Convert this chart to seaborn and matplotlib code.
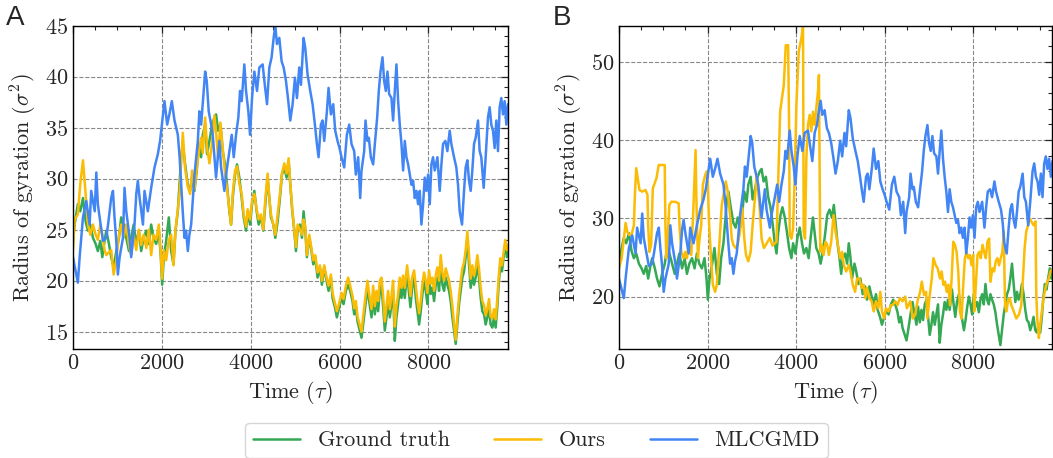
import pandas as pd
import seaborn as sns
import matplotlib.pyplot as plt
from matplotlib.ticker import MultipleLocator

# Ground truth trajectory (same in both panels)
gt_time = [0, 37, 110, 165, 225, 285, 337, 390, 450, 510, 560, 615, 660, 710, 750,
           810, 860, 915, 975, 1035, 1085, 1140, 1200, 1260, 1310, 1365, 1425, 1483, 1535, 1590,
           1650, 1708, 1760, 1813, 1873, 1932, 1977, 2007, 2045, 2097, 2157, 2210, 2262, 2307, 2360,
           2397, 2434, 2472, 2524, 2584, 2636, 2681, 2734, 2786, 2831, 2884, 2921, 2974, 3018, 3071,
           3131, 3183, 3221, 3266,
           3318, 3370, 3423, 3468, 3520, 3558, 3595, 3648, 3692, 3745, 3797, 3842, 3895, 3932, 3985,
           4030, 4082, 4134, 4179, 4232, 4284, 4329, 4381, 4419, 4456, 4509, 4554, 4606, 4658, 4703,
           4756, 4808, 4853, 4891, 4936, 4981, 5018, 5056, 5108, 5153, 5190, 5228, 5265, 5318, 5355,
           5408, 5453, 5505, 5557, 5602, 5655, 5707, 5752, 5805, 5842, 5895, 5939, 5992, 6044, 6089,
           6142, 6194, 6239, 6291, 6329, 6366, 6404, 6456,
           6494, 6531, 6584, 6629, 6666, 6719, 6756, 6794, 6831, 6868, 6906, 6943, 6981, 7018, 7056,
           7093, 7131, 7168, 7205, 7243, 7280, 7318, 7355, 7393, 7430, 7468, 7520, 7558, 7595, 7633,
           7677, 7715, 7752, 7790, 7827, 7865, 7902, 7940, 7977, 8014, 8052, 8089, 8127, 8164, 8202,
           8239, 8277, 8314, 8352, 8389, 8426, 8464, 8501, 8539, 8576, 8614, 8651, 8689, 8726, 8763,
           8801, 8838, 8876, 8913, 8951, 8988, 9026, 9063, 9101, 9138, 9176, 9213, 9251, 9288, 9325,
           9363, 9400, 9438, 9475, 9513, 9550, 9580, 9618, 9655, 9692, 9730, 9767, 9797]
gt_rg = [23.9, 25.5, 27.5, 26.8, 28.1, 25.8, 24.9, 25.5, 24.2, 23.6, 22.9, 23.9, 22.3, 23.9, 24.9,
         23.6, 22.3, 21.3, 22.9, 24.2, 26.2, 25.5, 24.2, 22.9, 24.2, 25.5, 23.6, 24.9, 22.9, 24.2,
         24.9, 23.6, 25.5, 24.2, 23.6, 24.9, 22.3, 19.6, 22.3, 23.9, 26.2, 22.9, 21.6, 24.9, 26.8,
         29.4, 32.1, 33.4, 31.4, 29.4, 28.8, 30.1, 28.8, 30.8, 33.4, 32.1, 34.3, 35.3, 32.4, 33.7,
         35.3, 36.0, 36.3, 34.7,
         35.3, 32.7, 31.4, 29.4, 26.8, 25.5, 28.1, 30.4, 31.4, 30.1, 28.1, 26.2, 24.9, 26.8, 25.5,
         27.5, 28.8, 26.8, 25.5, 26.2, 24.9, 27.5, 30.1, 28.1, 26.2, 25.5, 24.2, 25.8, 28.1, 30.4,
         31.1, 30.1, 31.7, 29.4, 26.8, 24.9, 22.9, 24.9, 25.5, 24.2, 26.8, 25.0, 22.3, 24.2, 23.3,
         21.6, 22.3, 20.3, 21.3, 19.6, 21.3, 20.0, 19.0, 20.3, 18.3, 17.4, 16.4, 17.4, 18.3, 17.7,
         19.0, 19.6, 19.0, 18.0, 16.7, 17.4, 16.0, 15.1,
         14.4, 15.7, 17.7, 19.3, 18.0, 16.4, 18.7, 16.7, 18.3, 17.0, 19.0, 19.6, 17.4, 15.1, 16.4,
         18.0, 16.4, 17.7, 19.0, 14.1, 16.4, 17.7, 19.3, 18.3, 19.6, 18.3, 20.9, 19.0, 17.4, 19.3,
         20.3, 18.3, 17.0, 15.7, 17.0, 18.7, 20.0, 19.0, 17.7, 20.3, 18.7, 19.3, 18.0, 19.6, 20.3,
         19.0, 21.6, 19.6, 19.0, 20.3, 19.6, 19.0, 18.0, 16.4, 15.1, 13.8, 15.7, 17.7, 19.0, 20.3,
         20.9, 22.3, 24.2, 21.6, 19.3, 20.6, 19.6, 20.3, 21.6, 20.3, 18.3, 17.0, 16.7, 15.7, 16.4,
         17.4, 15.7, 15.4, 16.4, 15.4, 17.4, 19.6, 21.6, 20.9, 22.3, 23.6, 22.3, 22.9]

# "Ours" in panel A, read on the same time stamps as the ground truth
ours_a_rg = [23.0, 26.0, 26.5, 29.5, 31.8, 28.5, 25.5, 24.5, 25.5, 24.5, 24.0, 25.5, 24.5, 23.0, 22.5,
             22.8, 23.0, 20.6, 22.0, 24.5, 25.5, 24.2, 25.5, 23.5, 22.5, 24.5, 23.0, 25.0, 23.5, 24.5,
             23.2, 25.0, 22.5, 24.5, 24.0, 25.5, 22.5, 20.2, 23.0, 22.0, 24.0, 24.5, 21.5, 25.0, 27.0,
             28.5, 31.5, 34.5, 31.0, 29.2, 28.5, 30.8, 29.0, 31.0, 32.5, 34.0, 32.5, 36.0, 33.0, 31.5,
             33.5, 36.2, 34.5, 32.0,
             35.5, 33.0, 30.5, 29.0, 27.0, 25.5, 28.5, 30.8, 31.2, 29.5, 28.5, 26.5, 25.3, 27.0, 26.0,
             27.8, 28.5, 27.0, 26.0, 26.5, 25.0, 28.0, 30.5, 28.0, 26.5, 25.5, 24.5, 26.5, 28.5, 30.5,
             31.5, 30.5, 32.0, 29.5, 27.0, 25.0, 23.3, 25.5, 25.0, 24.5, 26.0, 25.3, 22.5, 24.5, 23.5,
             22.0, 22.5, 20.8, 21.5, 20.0, 21.5, 20.3, 19.5, 20.6, 18.8, 17.8, 17.0, 17.8, 18.8, 18.2,
             19.5, 20.3, 19.5, 18.5, 17.3, 18.0, 16.5, 15.6,
             15.0, 16.5, 18.5, 20.0, 18.7, 17.2, 19.5, 17.5, 19.0, 18.0, 20.0, 20.3, 18.5, 16.0, 17.5,
             19.0, 17.2, 18.5, 20.0, 15.5, 17.5, 18.7, 20.3, 19.3, 20.5, 19.3, 21.5, 20.0, 18.5, 20.3,
             21.0, 19.5, 18.0, 16.8, 18.0, 19.7, 20.8, 20.0, 18.8, 21.0, 19.7, 20.3, 19.0, 20.5, 21.3,
             20.0, 22.5, 20.8, 20.0, 21.2, 20.6, 20.0, 19.0, 17.5, 15.8, 14.2, 16.5, 18.5, 20.0, 21.2,
             21.8, 23.0, 24.8, 22.5, 20.2, 21.5, 20.5, 21.2, 22.5, 21.2, 19.3, 18.0, 17.6, 16.6, 17.2,
             18.2, 16.5, 16.3, 17.2, 16.2, 18.2, 20.3, 22.2, 21.5, 22.8, 24.0, 23.0, 23.5]

# MLCGMD trajectory (same in both panels)
ml_time = [0, 110, 150, 225, 300, 375, 410, 490, 525, 560, 600, 675, 750, 790, 825,
           860, 900, 935, 975, 1010, 1050, 1125, 1160, 1200, 1275, 1310, 1385, 1425, 1460, 1500,
           1575, 1610, 1685, 1760, 1835, 1910, 1960, 2020, 2060, 2120, 2170, 2225, 2285, 2360, 2400,
           2435, 2470, 2510, 2545, 2585, 2620, 2660, 2700, 2735, 2810, 2845, 2885, 2920, 2975, 3010,
           3055, 3110, 3145, 3185, 3220, 3260, 3295,
           3333, 3408, 3445, 3520, 3573, 3618, 3670, 3722, 3760, 3797, 3857, 3895, 3947, 3985, 4030,
           4082, 4142, 4194, 4269, 4307, 4367, 4419, 4471, 4516, 4554, 4591, 4644, 4696, 4741, 4793,
           4846, 4891, 4943, 4996, 5041, 5093, 5131, 5190, 5228, 5280, 5340, 5393, 5445, 5490, 5527,
           5580, 5617, 5655, 5715, 5752, 5805, 5857, 5902, 5954, 5999, 6044, 6104, 6164, 6217, 6269,
           6329, 6366, 6419, 6464,
           6494, 6554, 6584, 6629, 6659, 6704, 6756, 6794, 6846, 6883, 6921, 6966, 7003, 7041, 7078,
           7116, 7168, 7205, 7243, 7280, 7318, 7355, 7393, 7430, 7468, 7505, 7543, 7580, 7618, 7655,
           7693, 7730, 7767, 7805, 7842, 7880, 7917, 7955, 7992, 8030, 8067, 8104, 8142, 8202, 8254,
           8292, 8329, 8381, 8426, 8479, 8516, 8576, 8628, 8666, 8703, 8756, 8801, 8838, 8876, 8913,
           8951, 8988, 9026, 9063, 9116, 9153, 9190, 9243, 9288, 9340, 9378, 9415, 9453, 9490, 9528,
           9565, 9603, 9640, 9678, 9715, 9753, 9790]
ml_rg = [22.3, 19.8, 22.3, 26.2, 27.8, 25.5, 28.8, 26.8, 30.6, 27.5, 26.2, 23.9, 24.2, 25.5, 26.8,
         28.1, 28.8, 26.2, 23.9, 20.6, 22.3, 24.2, 29.1, 26.8, 24.2, 22.3, 25.5, 28.5, 29.8, 28.1,
         25.5, 28.8, 26.8, 29.1, 31.1, 32.4, 33.7, 36.0, 37.6, 35.3, 36.3, 37.6, 35.7, 34.3, 32.1,
         29.4, 26.8, 24.2, 24.9, 22.9, 24.5, 25.5, 28.1, 30.4, 33.7, 36.6, 35.3, 37.3, 40.5, 39.6,
         36.6, 35.3, 34.3, 32.1, 30.1, 32.1, 33.7,
         31.1, 28.8, 30.4, 32.7, 34.3, 32.1, 34.3, 36.0, 38.6, 37.6, 41.2, 38.6, 36.6, 34.3, 37.9,
         40.5, 38.6, 40.9, 41.2, 39.6, 37.3, 40.9, 41.9, 43.8, 45.0, 43.2, 43.8, 41.5, 40.9, 39.6,
         37.6, 35.7, 37.3, 39.9, 37.9, 40.9, 39.2, 43.8, 42.8, 40.2, 38.6, 37.3, 35.3, 33.4, 32.1,
         35.3, 35.7, 33.7, 36.6, 38.9, 36.3, 37.3, 34.7, 33.7, 33.0, 32.1, 31.1, 34.3, 35.3, 33.4,
         32.7, 30.4, 32.1, 28.1,
         30.8, 32.7, 35.7, 33.7, 34.0, 32.1, 31.4, 33.4, 36.0, 38.6, 40.5, 41.9, 39.6, 38.6, 40.5,
         38.3, 37.9, 35.7, 38.6, 41.2, 37.6, 35.3, 33.4, 30.8, 33.7, 32.1, 31.4, 30.4, 29.4, 29.8,
         28.1, 28.8, 27.5, 28.8, 25.5, 27.5, 30.1, 28.8, 30.4, 27.5, 31.4, 32.1, 30.8, 32.1, 28.8,
         31.4, 33.4, 33.7, 32.7, 34.7, 33.4, 32.1, 31.1, 29.4, 26.8, 25.5, 28.8, 31.1, 31.8, 29.8,
         28.8, 30.8, 33.4, 34.0, 35.7, 32.7, 32.1, 29.1, 32.1, 36.0, 37.0, 35.3, 34.7, 33.0, 35.7,
         32.7, 37.0, 37.9, 36.3, 37.6, 35.3, 37.3]

# "Ours" in panel B
ours_b_time = [0, 60, 112, 150, 187, 225, 285, 337, 360, 390, 434, 464, 524, 600, 644,
               659, 689, 727, 764, 809, 846, 899, 974, 1034, 1049, 1071, 1108, 1138, 1183, 1273,
               1348, 1371, 1408, 1461, 1498, 1535, 1573, 1633, 1678, 1708, 1730, 1753, 1783, 1813, 1857,
               1895, 1947, 1985, 2007, 2037, 2075, 2120, 2172, 2210, 2247, 2284, 2322, 2374, 2412, 2457,
               2509, 2547, 2584, 2636, 2681, 2734, 2786, 2831, 2869, 2921, 2974, 3018, 3071, 3108, 3146,
               3183, 3221, 3273, 3318, 3408, 3468, 3558, 3640, 3722, 3767, 3820, 3842, 3857, 3895, 3932,
               3970, 4007, 4060, 4120, 4157, 4172, 4202, 4232, 4269, 4307, 4344, 4381, 4419, 4456, 4494,
               4516, 4531, 4546, 4584, 4621, 4666, 4703, 4741, 4793, 4846, 4891, 4943, 4996, 5041, 5078,
               5131, 5190, 5228, 5280, 5333, 5378, 5430, 5483, 5527, 5565, 5602, 5655, 5707, 5752, 5805,
               5857, 5902, 5939, 5992, 6029, 6089, 6142, 6179, 6239, 6291, 6344, 6404, 6464, 6502, 6577,
               6637, 6689, 6742, 6802, 6839, 6891, 6936, 6966, 7011, 7064, 7101, 7154, 7198, 7251, 7288,
               7326, 7363, 7401, 7438, 7475, 7513, 7550, 7588, 7625, 7663, 7700, 7738, 7775, 7812, 7850,
               7887, 7925, 7962, 8000, 8022, 8060, 8097, 8135, 8172, 8210, 8247, 8284, 8322, 8359, 8389,
               8434, 8472, 8509, 8547, 8584, 8622, 8659, 8689, 8719, 8749, 8786, 8824, 8861, 8914, 8974,
               9034, 9086, 9123, 9161, 9198, 9236, 9273, 9311, 9363, 9408, 9423, 9446, 9483, 9513, 9550,
               9588, 9633, 9670, 9708, 9745, 9790]
ours_b_rg = [23.6, 24.9, 27.4, 29.4, 28.3, 27.9, 27.9, 29.1, 33.0, 36.4, 34.7, 33.6, 33.4, 33.6, 33.0,
             29.1, 25.7, 26.6, 33.8, 34.5, 35.1, 36.8, 36.8, 36.8, 29.1, 24.9, 28.3, 31.7, 32.1, 32.1,
             31.9, 28.7, 25.7, 24.9, 25.7, 24.9, 26.6, 25.3, 30.9, 35.5, 38.7, 31.3, 24.9, 27.0, 29.1,
             34.3, 35.5, 36.0, 34.3, 29.1, 25.3, 21.5, 20.6, 21.5, 24.9, 28.3, 31.7, 33.4, 34.7, 33.4,
             30.4, 27.4, 26.6, 26.2, 26.6, 28.3, 31.3, 27.4, 25.3, 24.5, 25.7, 29.1, 32.6, 35.5, 33.4,
             30.9, 27.4, 26.2, 26.6, 27.5, 26.5, 27.0, 43.6, 47.0, 52.1, 52.1, 41.9, 27.9, 27.4, 28.7,
             35.5, 44.5, 51.3, 53.0, 54.6, 28.3, 27.4, 37.7, 41.9, 43.2, 41.1, 43.6, 41.9, 44.0, 46.2,
             48.3, 37.7, 25.7, 26.6, 25.3, 27.0, 26.6, 25.3, 27.0, 30.4, 28.3, 26.6, 24.9, 25.7, 24.0,
             23.2, 24.0, 23.2, 21.5, 20.6, 22.3, 22.3, 21.1, 21.5, 19.8, 21.1, 19.8, 19.4, 18.1, 19.4,
             18.5, 20.6, 18.1, 17.2, 18.5, 18.1, 18.9, 18.9, 19.4, 18.9, 19.8, 19.4, 20.0, 18.5, 19.4,
             17.2, 17.7, 19.4, 20.6, 21.9, 20.2, 20.6, 17.2, 19.8, 22.3, 24.9, 24.0, 23.6, 22.3, 23.2,
             21.5, 21.9, 20.6, 21.5, 18.9, 22.3, 27.0, 26.6, 25.7, 23.2, 18.1, 17.2, 21.5, 24.9, 25.7,
             24.9, 25.3, 24.0, 25.3, 18.1, 21.5, 25.3, 25.7, 24.9, 26.6, 25.7, 24.9, 27.0, 27.4, 21.9,
             23.6, 23.2, 24.5, 24.9, 24.0, 24.9, 25.7, 28.3, 18.9, 18.1, 19.4, 19.8, 18.9, 18.1, 17.2,
             17.7, 18.9, 22.3, 26.2, 28.3, 29.1, 30.0, 29.6, 29.1, 29.6, 20.6, 17.2, 14.7, 16.4, 18.1,
             19.8, 21.1, 21.9, 22.3, 23.2, 23.5]

names = ["Ground truth", "Ours", "MLCGMD"]
colors = ["#34A853", "#FBBC05", "#4285F4"]


def make_frame(ours_time, ours_rg):
    gt = pd.DataFrame({"Time": gt_time, "Rg": gt_rg, "Model": names[0]})
    ours = pd.DataFrame({"Time": ours_time, "Rg": ours_rg, "Model": names[1]})
    ml = pd.DataFrame({"Time": ml_time, "Rg": ml_rg, "Model": names[2]})
    return pd.concat([gt, ours, ml], ignore_index=True)


def style_axis(ax, ymajor, yminor):
    ax.xaxis.set_major_locator(MultipleLocator(2000))
    ax.xaxis.set_minor_locator(MultipleLocator(500))
    ax.yaxis.set_major_locator(MultipleLocator(ymajor))
    ax.yaxis.set_minor_locator(MultipleLocator(yminor))
    ax.tick_params(which="both", direction="in", top=True, right=True, labelsize=16)
    ax.tick_params(which="major", length=5, width=0.9)
    ax.tick_params(which="minor", length=2.8, width=0.8)
    ax.grid(True, which="major", linestyle="--", color="#888888", linewidth=0.8)
    ax.set_axisbelow(True)
    for s in ax.spines.values():
        s.set_linewidth(1.0)
        s.set_color("black")
    ax.set_xlabel(r"Time ($\tau$)", fontsize=16)
    ax.set_ylabel(r"Radius of gyration ($\sigma^2$)", fontsize=16)


def make_plot():
    sns.set_style("white")
    plt.rcParams["font.family"] = ["cmr10", "DejaVu Serif"]
    plt.rcParams["mathtext.fontset"] = "cm"
    plt.rcParams["axes.formatter.use_mathtext"] = True

    fig = plt.figure(figsize=(10.53, 4.58), dpi=100)
    ax_a = fig.add_axes([0.0693, 0.238, 0.4131, 0.706])
    ax_b = fig.add_axes([0.5878, 0.238, 0.4117, 0.706])

    for ax, df in [(ax_a, make_frame(gt_time, ours_a_rg)),
                   (ax_b, make_frame(ours_b_time, ours_b_rg))]:
        sns.lineplot(data=df, x="Time", y="Rg", hue="Model", hue_order=names,
                     palette=colors, estimator=None, sort=True, linewidth=1.8,
                     legend=False, ax=ax)
        ax.set_xlim(0, 9790)

    ax_a.set_ylim(13.3, 45.0)
    ax_b.set_ylim(13.3, 54.6)
    style_axis(ax_a, 5, 1)
    style_axis(ax_b, 10, 2)

    fig.text(0.006, 0.99, "A", fontsize=20, family="Liberation Sans", va="top")
    fig.text(0.525, 0.99, "B", fontsize=20, family="Liberation Sans", va="top")

    handles = ax_a.get_lines()[:3]
    fig.legend(handles, names, loc="upper center", bbox_to_anchor=(0.5095, 0.0764),
               ncol=3, fontsize=16, frameon=True, handlelength=2.1,
               columnspacing=2.0, handletextpad=0.8, borderpad=0.35,
               borderaxespad=0, edgecolor="#cccccc", fancybox=True)

    fig.savefig("out.png", dpi=100)
    plt.close()


if __name__ == "__main__":
    make_plot()
